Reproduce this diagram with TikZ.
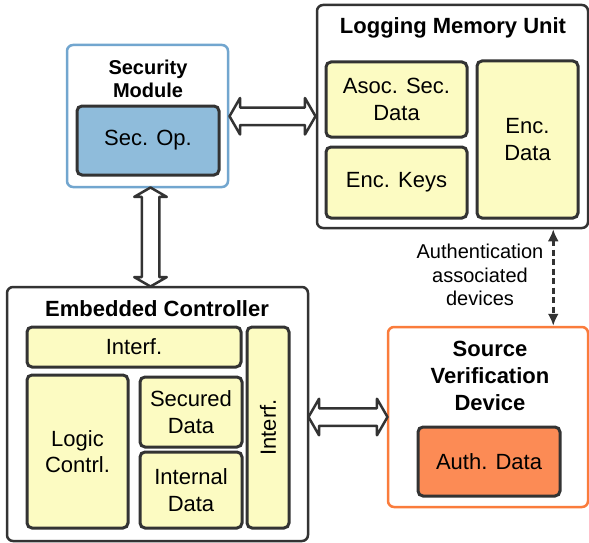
\documentclass[tikz,border=0pt]{standalone}
\usepackage[dvipsnames,svgnames]{xcolor}
\usepackage{fontspec}
\setmainfont{Liberation Sans}
\usetikzlibrary{shapes.arrows,arrows.meta,calc}
\definecolor{ink}{HTML}{333333}
\definecolor{cellyellow}{HTML}{FCFBC2}
\definecolor{smblue}{HTML}{72A6CF}
\definecolor{opblue}{HTML}{8FBCDB}
\definecolor{svdorange}{HTML}{FA7C3C}
\definecolor{authorange}{HTML}{FC8B55}
\begin{document}
\begin{tikzpicture}[x=1pt,y=-1pt,
 unit/.style={draw=ink,line width=2.5pt,rounded corners=6pt,fill=white,inner sep=0pt},
 part/.style={draw=ink,line width=3pt,rounded corners=5pt,fill=cellyellow,inner sep=0pt,
   align=center,font=\fontsize{22}{26.5}\selectfont},
 ttl/.style={align=center,font=\fontsize{22}{27}\selectfont\bfseries},
 dblarrow/.style={double arrow,draw=ink,fill=white,line width=2.5pt,line join=round,
   inner xsep=0pt,inner ysep=7.5pt,double arrow head extend=9.5pt,double arrow tip angle=120},
 authline/.style={draw=ink,line width=2.5pt,dash pattern=on 6pt off 3.5pt,
   {Latex[length=12pt,width=11pt]}-{Latex[length=12pt,width=11pt]}}]
 \useasboundingbox (0,0) rectangle (589,543);
 \node[unit,draw=smblue,minimum width=161pt,minimum height=142pt] (sm) at (147.5,116) {};
 \node[ttl,font=\fontsize{20}{23}\selectfont\bfseries] (smt) at (148,78.5) {Security\\Module};
 \node[part,fill=opblue,minimum width=142pt,minimum height=69pt] (secop) at (148,140.5) {Sec. Op.};
 \node[unit,minimum width=271pt,minimum height=223pt] (lmu) at (452.5,116.5) {};
 \node[ttl] (lmut) at (453,28) {Logging Memory Unit};
 \node[part,minimum width=141pt,minimum height=75pt] (asoc) at (396.5,99.5) {Asoc. Sec.\\Data};
 \node[part,minimum width=141pt,minimum height=71pt] (enckeys) at (396.5,182.5) {Enc. Keys};
 \node[part,minimum width=101pt,minimum height=157pt] (encdata) at (527.5,139.5) {Enc.\\Data};
 \node[unit,minimum width=301pt,minimum height=254pt] (ec) at (157.5,414) {};
 \node[ttl] (ect) at (157,309) {Embedded Controller};
 \node[part,minimum width=214pt,minimum height=40pt] (interft) at (134,347) {Interf.};
 \node[part,minimum width=101pt,minimum height=153pt] (logic) at (77.5,451.5) {Logic\\Contrl.};
 \node[part,minimum width=102pt,minimum height=70pt] (secured) at (191,412) {Secured\\Data};
 \node[part,minimum width=102pt,minimum height=76pt] (internal) at (191,490) {Internal\\Data};
 \node[part,rotate=90,minimum width=201pt,minimum height=42pt] (interfv) at (268,427.5) {Interf.};
 \node[unit,draw=svdorange,minimum width=200pt,minimum height=180pt] (svd) at (488,417) {};
 \node[ttl] (svdt) at (490,376) {Source\\Verification\\Device};
 \node[part,fill=authorange,minimum width=142pt,minimum height=69pt] (auth) at (489,461.5) {Auth. Data};
 \node[dblarrow,minimum height=86pt] (smlmu) at ($(sm.east)!.5!(lmu.west)$) {};
 \node[dblarrow,rotate=90,minimum height=99pt,double arrow head extend=7.5pt] (smec) at ([xshift=-2pt]$(sm.south)!.5!(ec.north)$) {};
 \node[dblarrow,minimum height=79pt] (ecsvd) at ($(ec.east |- svd.west)!.5!(svd.west)$) {};
 \draw[authline] ([xshift=-36pt]svd.north east |- lmu.south) -- ([xshift=-36pt]svd.north east);
 \node[align=center,font=\fontsize{20}{23.5}\selectfont] (authtxt) at (480,275) {Authentication\\associated\\devices};
\end{tikzpicture}
\end{document}
